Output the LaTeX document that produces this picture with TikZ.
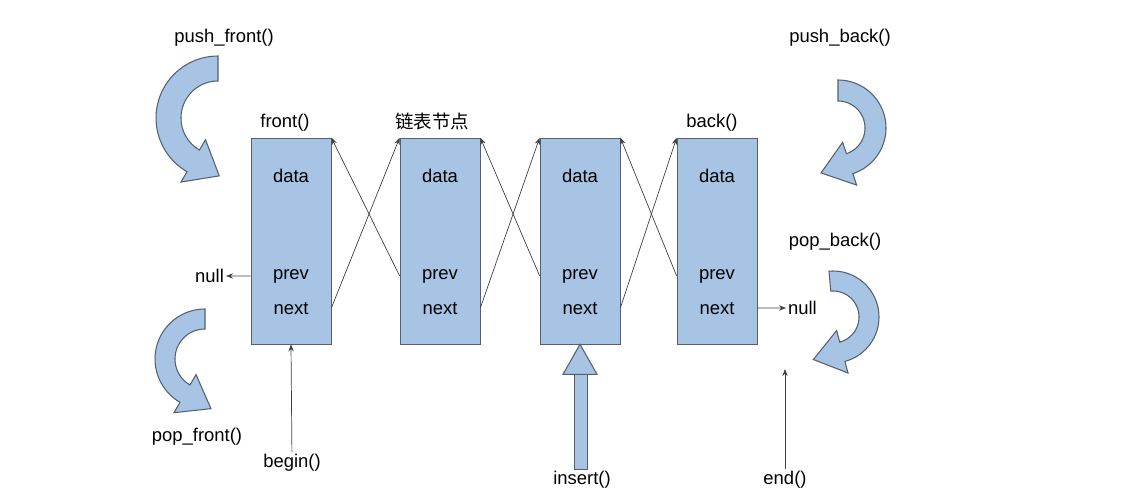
\documentclass[tikz,border=0pt]{standalone}
\usepackage{fontspec}
\setmainfont{Liberation Sans}
\newfontfamily\cjk{Noto Sans CJK SC}
\usetikzlibrary{arrows.meta,positioning}
\definecolor{boxblue}{RGB}{167,196,229}
\definecolor{edgegray}{RGB}{85,95,110}
\tikzset{
  cell/.style={draw=edgegray, fill=boxblue, minimum width=1.6cm, minimum height=4.12cm, inner sep=0pt},
  lbl/.style={font=\fontsize{10.5}{12}\selectfont, inner sep=1pt},
  link/.style={draw=black!75, -{Stealth[length=4pt,width=3pt]}},
  turnfill/.style={draw=edgegray, fill=boxblue, line width=0.6pt},
}
% curved block arrow: cx, cy, outer r, inner r, start angle, end angle, turn (1 ccw, -1 cw)
\newcommand{\turnarrow}[7]{%
  \pgfmathsetmacro\tang{#6+#7*90}
  \pgfmathsetmacro\mr{(#3+#4)/2}
  \path[turnfill] plot[domain=#5:#6, samples=40] ({#1+#3*cos(\x)},{#2+#3*sin(\x)})
    -- ({#1+(#3+12)*cos(#6)},{#2+(#3+12)*sin(#6)})
    -- ({#1+\mr*cos(#6)+30*cos(\tang)},{#2+\mr*sin(#6)+30*sin(\tang)})
    -- ({#1+(#4-12)*cos(#6)},{#2+(#4-12)*sin(#6)})
    -- plot[domain=#6:#5, samples=40] ({#1+#4*cos(\x)},{#2+#4*sin(\x)}) -- cycle;}
\begin{document}
\begin{tikzpicture}[x=0.02cm, y=0.02cm]
  \useasboundingbox (0,0) rectangle (1148,499);

  % list cells
  \node[cell] (n1) at (291,258) {};
  \node[cell] (n2) at (440,258) {};
  \node[cell] (n3) at (580,258) {};
  \node[cell] (n4) at (717,258) {};

  \foreach \c in {1,...,4}{
    \node[lbl] (d\c) at ([yshift=1.3cm]n\c.center) {data};
    \node[lbl] (p\c) at ([yshift=-0.7cm]n\c.center) {prev};
    \node[lbl] (x\c) at ([yshift=-1.36cm]n\c.center) {next};
  }

  % next / prev links
  \foreach \a/\b in {1/2,2/3,3/4}{
    \draw[link] ([yshift=-1.34cm]n\a.east) -- (n\b.north west);
    \draw[link] ([yshift=-0.7cm]n\b.west) -- (n\a.north east);
  }

  \node[lbl] (front) at (285,376) {front()};
  \node[lbl, font=\cjk\fontsize{10.5}{12}\selectfont] (title) at (432,378) {链表节点};
  \node[lbl] (back) at (712,376) {back()};

  \node[lbl, anchor=east] (nulll) at (226,223) {null};
  \node[lbl, anchor=west] (nullr) at (786,191) {null};
  \draw[link] ([yshift=-0.7cm]n1.west) -- (nulll.east);
  \draw[link] ([yshift=-1.34cm]n4.east) -- (nullr.west);

  \node[lbl] (begin) at (292,36) {begin()};
  \node[lbl] (insert) at (582,19) {insert()};
  \node[lbl] (end) at (785,19) {end()};
  \draw[link] (begin) -- (n1.south);
  \draw[turnfill] ([xshift=-4.5pt]insert.north) rectangle ([xshift=4.5pt, yshift=-0.6cm]n3.south);
  \path[turnfill] ([yshift=-0.6cm]n3.south) ++(-0.34cm,0) -- (n3.south) -- ++(0.34cm,-0.6cm) -- cycle;
  \coordinate (endtip) at (785,130);
  \draw[link] (end) -- (endtip);

  % push / pop arrows
  \node[lbl] (pushf) at (224,461) {push\_front()};
  \node[lbl] (popf) at (197,62) {pop\_front()};
  \node[lbl] (pushb) at (840,461) {push\_back()};
  \node[lbl] (popb) at (835,257) {pop\_back()};
  \turnarrow{218}{381}{62}{37}{90}{240}{1}
  \turnarrow{205}{140}{50}{30}{90}{240}{1}
  \turnarrow{838}{371}{48}{27}{90}{-72}{-1}
  \turnarrow{833}{182}{46}{26}{95}{-75}{-1}
\end{tikzpicture}
\end{document}
